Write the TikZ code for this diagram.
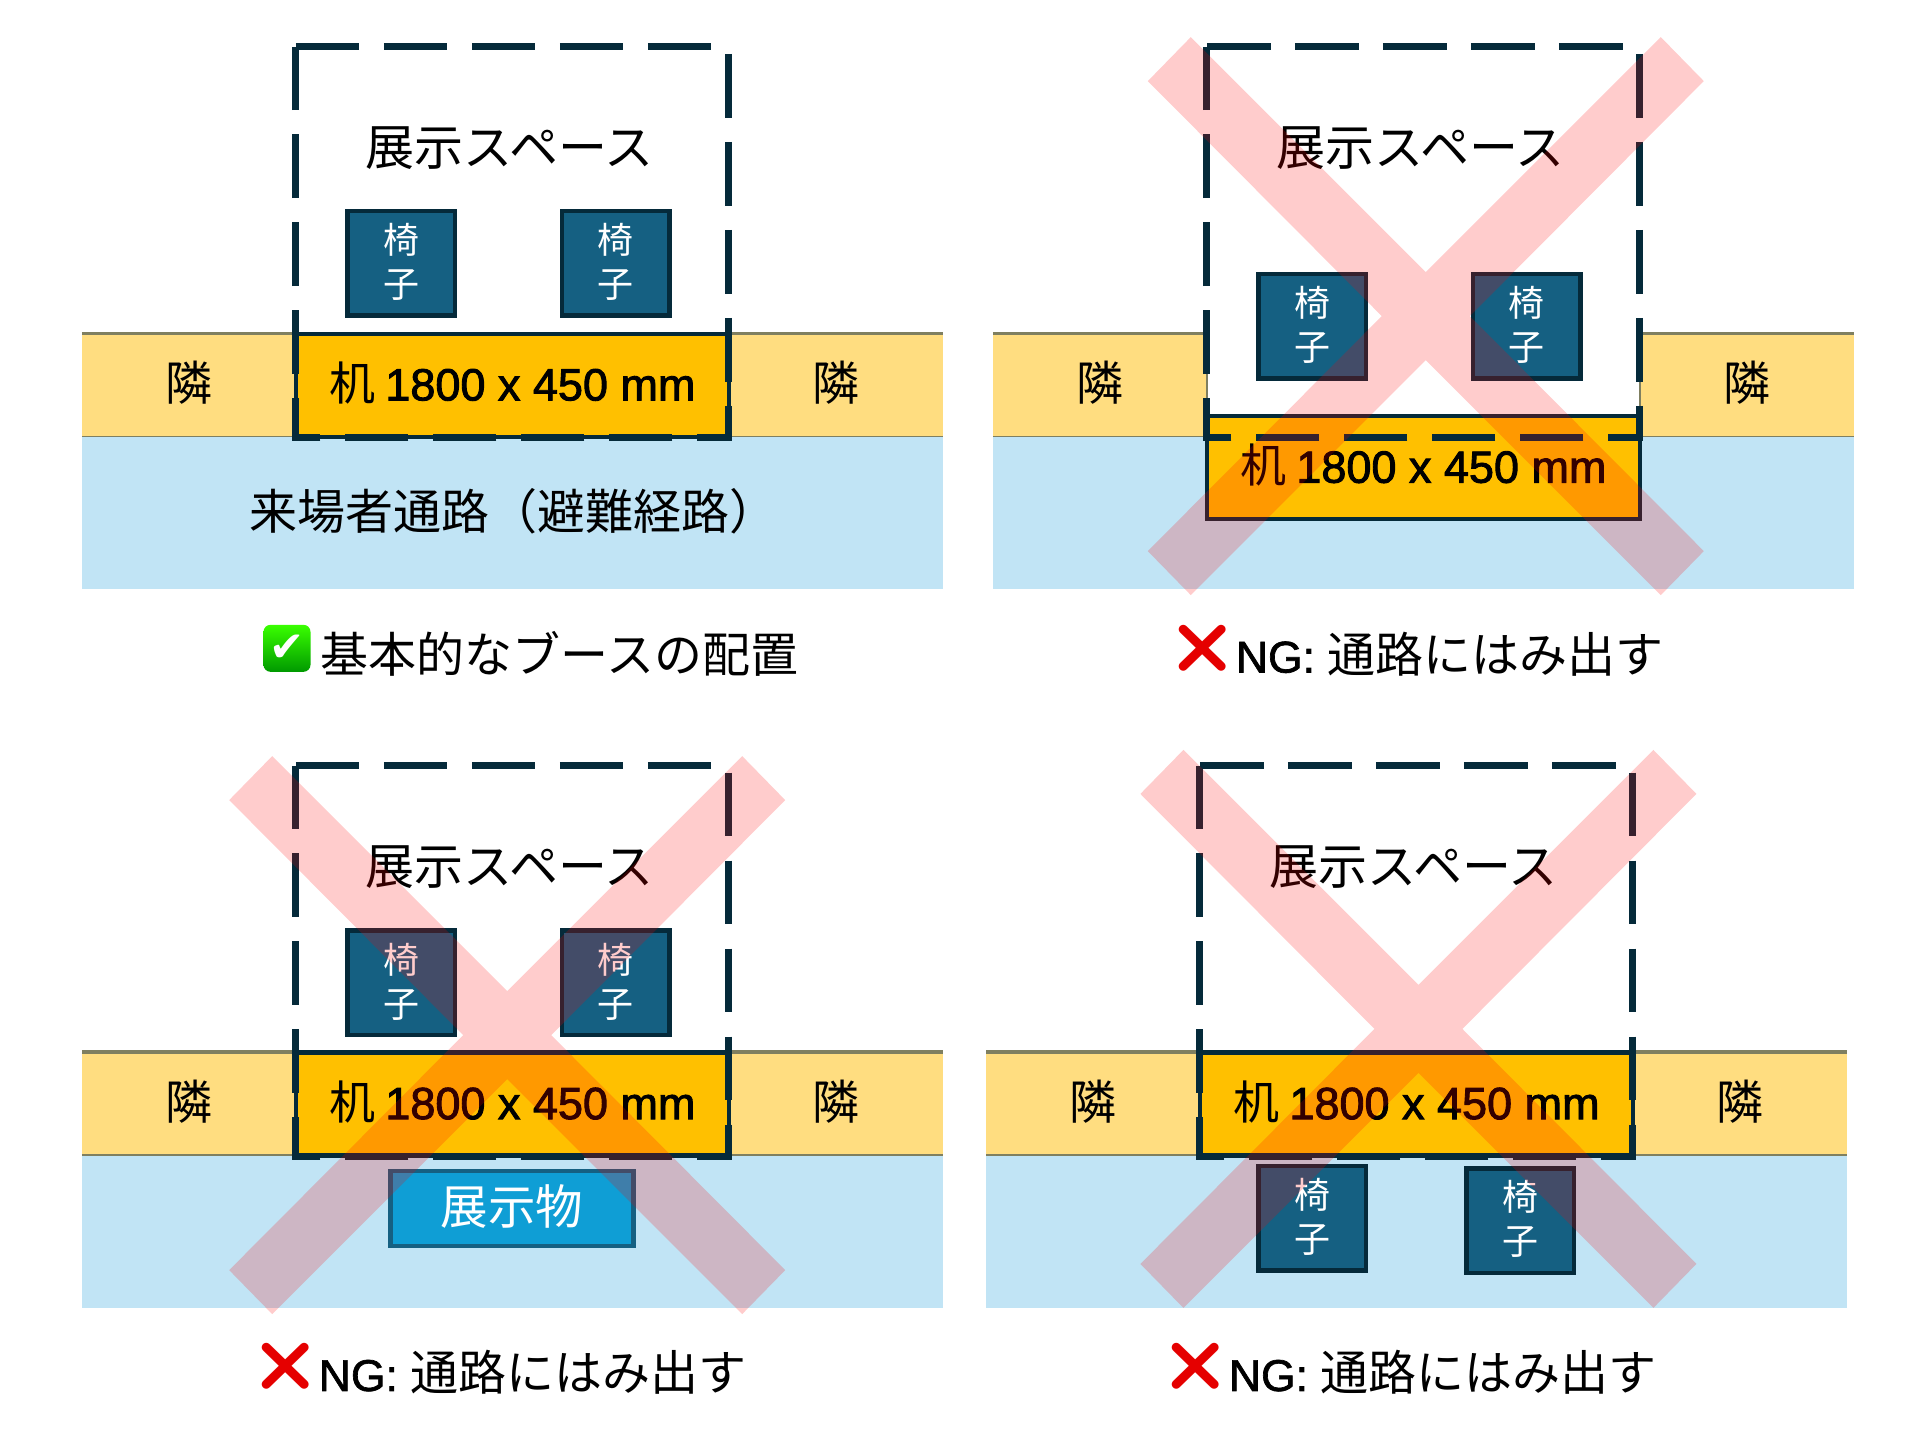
\documentclass[tikz,border=0pt]{standalone}
\usepackage{fontspec}
\setmainfont{Noto Sans CJK JP}
\newfontfamily\latinfont[RawFeature={embolden=1.5}]{Liberation Sans}
\newfontfamily\desklatin[RawFeature={embolden=2}]{Liberation Sans}
\newfontfamily\emojifont{Noto Emoji}
\newfontfamily\checkfont{DejaVu Sans}
\usepackage{tikz}
\usetikzlibrary{positioning}

\definecolor{navy}{HTML}{052A3A}
\definecolor{chairblue}{HTML}{156082}
\definecolor{itemblue}{HTML}{0F9ED5}
\definecolor{aisleblue}{HTML}{C1E4F5}
\definecolor{stripyellow}{HTML}{FFDD80}
\definecolor{deskorange}{HTML}{FFC000}
\definecolor{stripline}{HTML}{7F7F60}

\newcommand{\desktext}{\raisebox{2.5pt}[\height][\depth]{机 {\desklatin\fontsize{45}{45}\selectfont 1800 x 450 mm}}}
\newcommand{\chairtext}{\raisebox{-3.5pt}[\height][\depth]{\begin{tabular}{@{}c@{}}椅\\子\end{tabular}}}
\newcommand{\ngtext}{{\latinfont\fontsize{44.5}{44.5}\selectfont NG:}\hspace{0.26em}通路にはみ出す}

\tikzset{
  spaceline/.style={line width=7pt, color=navy, dash pattern=on 63.6pt off 24.4pt},
  stripfill/.style={fill=stripyellow},
  stripedge/.style={line width=3.5pt, color=stripline},
  stripbase/.style={line width=1.5pt, color=stripline},
  aisle/.style={fill=aisleblue},
  desk/.style={draw=navy, fill=deskorange, line width=4.5pt, inner sep=0pt, minimum width=433pt, minimum height=103pt, font=\fontsize{46}{46}\selectfont},
  chair/.style={draw=navy, fill=chairblue, text=white, line width=4.5pt, inner sep=0pt, minimum width=107.5pt, minimum height=104.5pt, font=\fontsize{36}{44}\selectfont},
  item/.style={draw=chairblue, fill=itemblue, text=white, line width=4.5pt, inner sep=0pt, minimum width=243pt, minimum height=75pt, font=\fontsize{47.5}{47.5}\selectfont},
  label/.style={inner sep=0pt, font=\fontsize{49}{49}\selectfont},
  nextdoor/.style={inner sep=0pt, font=\fontsize{47}{47}\selectfont},
  caption/.style={inner sep=0pt, anchor=west, font=\fontsize{48}{48}\selectfont},
  okmark/.style={top color=green!70!lime, bottom color=green!60!black, text=white, rounded corners=7pt, inner sep=0pt, minimum size=47pt, font=\fontsize{42}{42}\selectfont\checkfont},
  ngmark/.style={inner sep=0pt, text=red!90!black, font=\fontsize{47.5}{47.5}\selectfont\emojifont},
  ngcross/.pic={
    \fill[red, opacity=0.2] (0,-44) -- (235,-279) -- (278,-235) -- (44,0) -- (278,235) -- (235,279)
      -- (0,44) -- (-235,279) -- (-278,235) -- (-44,0) -- (-278,-235) -- (-235,-279) -- cycle;
  },
}

\begin{document}
\begin{tikzpicture}[x=1pt, y=-1pt]

\useasboundingbox (0,0) rectangle (1920,1440);

% Booth ok
\fill[stripfill] (81.9,333.4) rectangle (943.2,436.5);
\draw[stripedge] (81.9,333.4) -- (943.2,333.4);
\fill[aisle] (81.9,436.5) rectangle (943.2,589.2);
\draw[stripbase] (81.9,436.5) -- (943.2,436.5);
\node[desk] at (512.3,385.4) (d1) {\desktext};
\draw[spaceline] (295.8,46.8) -- (728.7,46.8) -- (728.7,437.5) -- (295.8,437.5) -- cycle;
\node[label] at (509.8,147.9) (s1) {展示スペース};
\node[chair] at (401.3,263) (c11) {\chairtext};
\node[chair] at (615.6,263) (c12) {\chairtext};
\node[nextdoor] at (189.4,382.9) (n11) {隣};
\node[nextdoor] at (835.7,382.9) (n12) {隣};
\node[label, font=\fontsize{48}{48}\selectfont] at (513.6,511.4) (a1) {来場者通路（避難経路）};
\node[caption] at (320.7,654.3) (t1) {基本的なブースの配置};
\node[okmark, left=10pt of t1, yshift=6pt] (m1) {✔};

% Booth ng, desk in the aisle
\fill[stripfill] (992.9,333.4) rectangle (1854.4,436.5);
\draw[stripedge] (992.9,333.4) -- (1854.4,333.4);
\fill[aisle] (992.9,436.5) rectangle (1854.4,589.2);
\draw[stripbase] (992.9,436.5) -- (1854.4,436.5);
\fill[white] (1206.9,330) rectangle (1639.8,436.5);
\draw[line width=2pt, color=stripline] (1206.9,331.6) -- (1206.9,436.5);
\draw[line width=2pt, color=stripline] (1639.8,331.6) -- (1639.8,436.5);
\node[desk] at (1423.3,467.7) (d2) {\desktext};
\draw[spaceline] (1206.9,46.8) -- (1639.8,46.8) -- (1639.8,437.5) -- (1206.9,437.5) -- cycle;
\node[label] at (1420.9,147.9) (s2) {展示スペース};
\node[chair] at (1312.4,326.4) (c21) {\chairtext};
\node[chair] at (1526.6,326.4) (c22) {\chairtext};
\node[nextdoor] at (1100.4,382.9) (n21) {隣};
\node[nextdoor] at (1746.7,382.9) (n22) {隣};
\pic at (1425.8,316.1) {ngcross};
\node[caption] at (1235.7,654.3) (t2) {\ngtext};
\node[ngmark, left=2.5pt of t2, yshift=6pt] (m2) {❌};

% Booth ng, item in the aisle
\fill[stripfill] (81.9,1052.1) rectangle (943.2,1155.2);
\draw[stripedge] (81.9,1052.1) -- (943.2,1052.1);
\fill[aisle] (81.9,1155.2) rectangle (943.2,1308);
\draw[stripbase] (81.9,1155.2) -- (943.2,1155.2);
\node[desk] at (512.3,1104.1) (d3) {\desktext};
\draw[spaceline] (295.8,765.5) -- (728.7,765.5) -- (728.7,1156.2) -- (295.8,1156.2) -- cycle;
\node[label] at (509.8,866.6) (s3) {展示スペース};
\node[chair] at (401.3,982.7) (c31) {\chairtext};
\node[chair] at (615.6,982.7) (c32) {\chairtext};
\node[nextdoor] at (189.4,1101.2) (n31) {隣};
\node[nextdoor] at (835.7,1101.2) (n32) {隣};
\node[item] at (512,1208.6) (e3) {\raisebox{2.5pt}[\height][\depth]{展示物}};
\pic at (507.2,1035.1) {ngcross};
\node[caption] at (318.6,1372.7) (t3) {\ngtext};
\node[ngmark, left=2.5pt of t3, yshift=6pt] (m3) {❌};

% Booth ng, chairs in the aisle
\fill[stripfill] (986,1052.1) rectangle (1847.4,1155.2);
\draw[stripedge] (986,1052.1) -- (1847.4,1052.1);
\fill[aisle] (986,1155.2) rectangle (1847.4,1308);
\draw[stripbase] (986,1155.2) -- (1847.4,1155.2);
\node[desk] at (1416.4,1104.1) (d4) {\desktext};
\draw[spaceline] (1199.9,765.5) -- (1632.8,765.5) -- (1632.8,1156.2) -- (1199.9,1156.2) -- cycle;
\node[label] at (1413.9,866.6) (s4) {展示スペース};
\node[chair] at (1312.4,1218.3) (c41) {\chairtext};
\node[chair] at (1520.4,1220.5) (c42) {\chairtext};
\node[nextdoor] at (1093.4,1101.2) (n41) {隣};
\node[nextdoor] at (1739.8,1101.2) (n42) {隣};
\pic at (1418.4,1028.9) {ngcross};
\node[caption] at (1228.7,1372.7) (t4) {\ngtext};
\node[ngmark, left=2.5pt of t4, yshift=6pt] (m4) {❌};

\end{tikzpicture}
\end{document}
